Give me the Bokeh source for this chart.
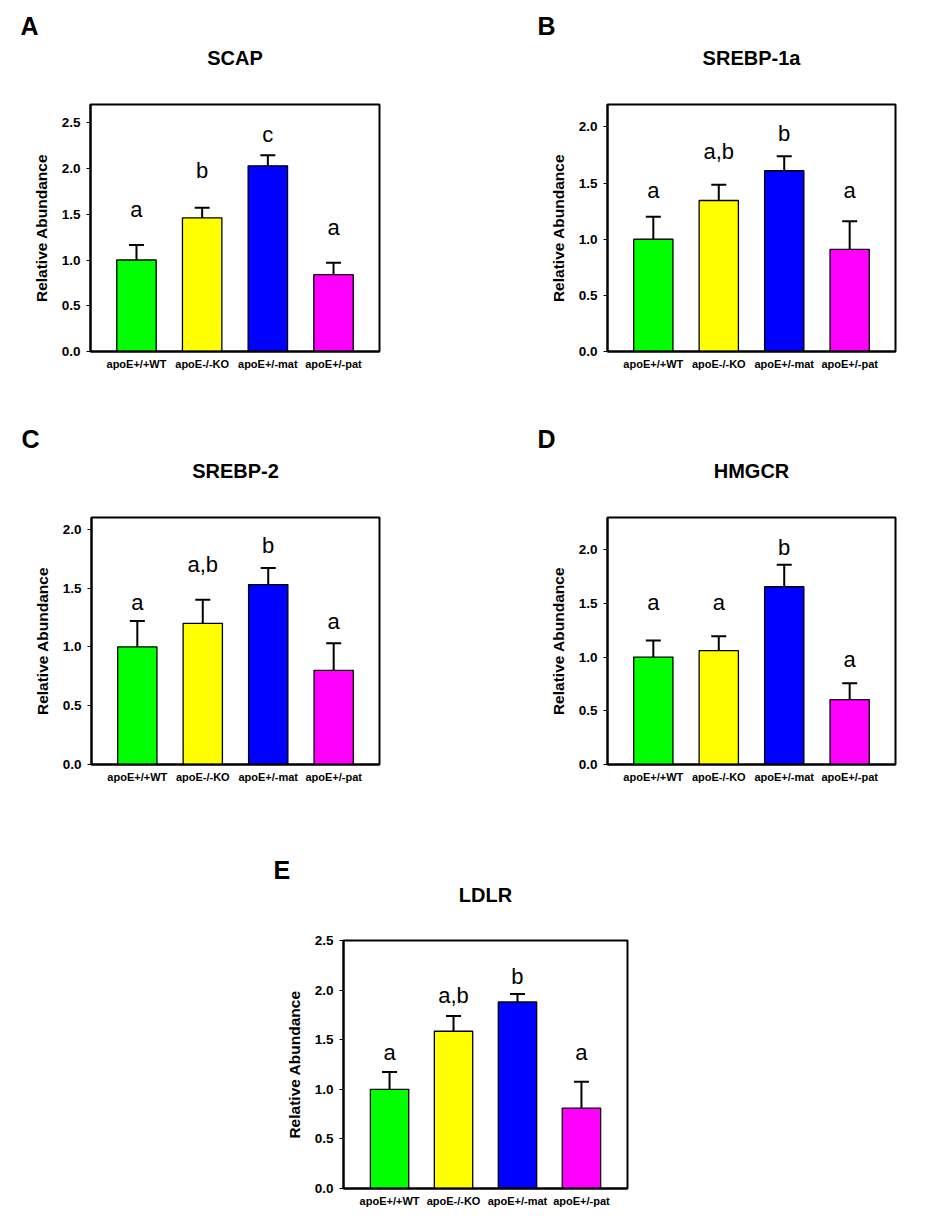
from bokeh.plotting import figure
from bokeh.models import (ColumnDataSource, Range1d, FixedTicker, SingleIntervalTicker,
                          PrintfTickFormatter, Whisker, TeeHead, LinearAxis)
from bokeh.layouts import column, row
from bokeh.core.properties import value
from bokeh.embed import file_html
from bokeh.resources import INLINE

# ---------------- data ----------------
groups = ["apoE+/+WT", "apoE-/-KO", "apoE+/-mat", "apoE+/-pat"]
bar_colors = ["#00FF00", "#FFFF00", "#0000FF", "#FF00FF"]

scap_mean = [1.00, 1.46, 2.03, 0.84]
scap_sem = [0.165, 0.11, 0.115, 0.13]
scap_letters = ["a", "b", "c", "a"]
scap_letter_y = [1.47, 1.89, 2.29, 1.27]

srebp1a_mean = [1.00, 1.345, 1.61, 0.91]
srebp1a_sem = [0.20, 0.14, 0.13, 0.25]
srebp1a_letters = ["a", "a,b", "b", "a"]
srebp1a_letter_y = [1.365, 1.71, 1.87, 1.365]

srebp2_mean = [1.00, 1.20, 1.53, 0.80]
srebp2_sem = [0.22, 0.20, 0.14, 0.23]
srebp2_letters = ["a", "a,b", "b", "a"]
srebp2_letter_y = [1.31, 1.63, 1.79, 1.15]

hmgcr_mean = [1.00, 1.06, 1.655, 0.605]
hmgcr_sem = [0.155, 0.135, 0.205, 0.152]
hmgcr_letters = ["a", "a", "b", "a"]
hmgcr_letter_y = [1.43, 1.43, 1.95, 0.905]

ldlr_mean = [1.00, 1.585, 1.88, 0.81]
ldlr_sem = [0.175, 0.155, 0.08, 0.265]
ldlr_letters = ["a", "a,b", "b", "a"]
ldlr_letter_y = [1.29, 1.86, 2.055, 1.29]

FONT = "Liberation Sans"


def make_panel(tag, name, means, sems, letters, letter_y, ymax,
               fig_w, fig_h, fl, ft, fw, fh, xpad=0.7, name_standoff=36, tag_standoff=12):
    xs = list(range(len(groups)))
    src = ColumnDataSource(dict(
        x=xs, top=means, upper=[m + s for m, s in zip(means, sems)],
        color=bar_colors, lab=letters, ly=letter_y))
    p = figure(width=fig_w, height=fig_h, frame_width=fw, frame_height=fh,
               min_border_left=fl, min_border_top=ft,
               min_border_right=fig_w - fl - fw, min_border_bottom=fig_h - ft - fh,
               x_range=Range1d(-xpad, len(groups) - 1 + xpad),
               y_range=Range1d(0, ymax),
               output_backend="svg", toolbar_location=None, tools="")
    p.background_fill_color = "white"
    p.border_fill_color = "white"
    p.outline_line_color = "black"
    p.outline_line_width = 2
    p.xgrid.visible = False
    p.ygrid.visible = False

    p.vbar(x="x", top="top", width=0.6, bottom=0, source=src,
           fill_color="color", line_color="black", line_width=1.3)
    w = Whisker(base="x", upper="upper", lower="top", source=src, dimension="height",
                line_color="black", line_width=2,
                upper_head=TeeHead(size=15, line_color="black", line_width=2),
                lower_head=None)
    p.add_layout(w)
    p.text(x="x", y="ly", text="lab", source=src, text_align="center",
           text_baseline="alphabetic", y_offset=-8, text_font=value(FONT),
           text_font_size="22px", text_color="black")

    # x axis
    xa = p.xaxis[0]
    xa.ticker = FixedTicker(ticks=xs)
    xa.major_label_overrides = {i: g for i, g in zip(xs, groups)}
    xa.major_tick_line_color = None
    xa.minor_tick_line_color = None
    xa.axis_line_color = "black"
    xa.axis_line_width = 2
    xa.major_label_standoff = 0
    xa.major_label_text_font = FONT
    xa.major_label_text_font_style = "bold"
    xa.major_label_text_font_size = "11px"
    xa.major_label_text_color = "black"

    # y axis
    ya = p.yaxis[0]
    ya.ticker = SingleIntervalTicker(interval=0.5, num_minor_ticks=0)
    ya.formatter = PrintfTickFormatter(format="%.1f")
    ya.major_tick_out = 4
    ya.major_tick_in = 0
    ya.major_tick_line_color = "black"
    ya.major_tick_line_width = 1
    ya.minor_tick_line_color = None
    ya.axis_line_color = "black"
    ya.axis_line_width = 2
    ya.major_label_standoff = 6
    ya.major_label_text_font = FONT
    ya.major_label_text_font_style = "bold"
    ya.major_label_text_font_size = "13.5px"
    ya.major_label_text_color = "black"
    ya.axis_label = "Relative Abundance"
    ya.axis_label_text_font = FONT
    ya.axis_label_text_font_style = "bold"
    ya.axis_label_text_font_size = "15.5px"
    ya.axis_label_text_color = "black"
    ya.axis_label_standoff = 9

    # panel letter as the plot title (outermost)
    p.title.text = tag
    p.title.align = "left"
    p.title.offset = -70
    p.title.text_font = FONT
    p.title.text_font_style = "bold"
    p.title.text_font_size = "25px"
    p.title.text_color = "black"
    p.title.standoff = tag_standoff

    # gene name as the label of a bare axis above the frame
    top_axis = LinearAxis(ticker=FixedTicker(ticks=[]), axis_label=name,
                          axis_line_color=None, major_tick_line_color=None,
                          minor_tick_line_color=None, major_tick_out=0, major_tick_in=0,
                          major_label_standoff=0, axis_label_standoff=name_standoff,
                          axis_label_text_font=FONT, axis_label_text_font_style="bold",
                          axis_label_text_font_size="20px", axis_label_text_color="black")
    p.add_layout(top_axis, "above")
    return p


pA = make_panel("A", "SCAP", scap_mean, scap_sem, scap_letters, scap_letter_y, 2.7,
                468, 414, 90, 104, 289, 247, tag_standoff=7)
pB = make_panel("B", "SREBP-1a", srebp1a_mean, srebp1a_sem, srebp1a_letters,
                srebp1a_letter_y, 2.2, 453, 414, 139, 104, 288, 247, tag_standoff=7)
pC = make_panel("C", "SREBP-2", srebp2_mean, srebp2_sem, srebp2_letters,
                srebp2_letter_y, 2.1, 468, 404, 91, 103, 288, 247, tag_standoff=8)
pD = make_panel("D", "HMGCR", hmgcr_mean, hmgcr_sem, hmgcr_letters,
                hmgcr_letter_y, 2.3, 453, 404, 139, 103, 288, 247, tag_standoff=8)
pE = make_panel("E", "LDLR", ldlr_mean, ldlr_sem, ldlr_letters, ldlr_letter_y, 2.5,
                921, 403, 343, 122, 284, 248, xpad=0.72, name_standoff=35, tag_standoff=-7)

layout = column(row(pA, pB, spacing=0), row(pC, pD, spacing=0), pE, spacing=0)

open("out.html", "w").write(file_html(layout, INLINE))
